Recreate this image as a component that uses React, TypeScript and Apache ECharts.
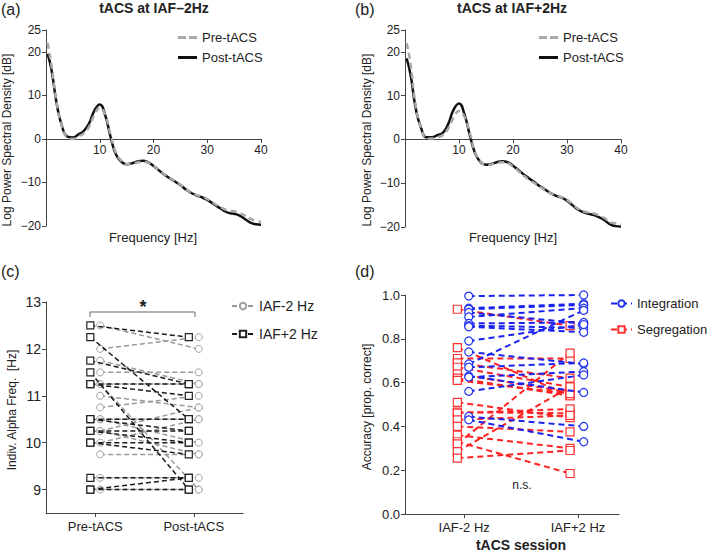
import React, { useEffect, useRef } from "react";
import * as echarts from "echarts";

const freqs = [0.3, 1, 2, 3, 4, 5, 6, 7, 8, 9, 10, 11, 12, 13, 14, 15, 16, 17, 18, 19, 20, 21, 22, 23, 24, 25, 26, 27, 28, 29, 30, 31, 32, 33, 34, 35, 36, 37, 38, 39, 40];
const aPost = [19.5, 16, 8, 2.8, 0.5, 0.3, 1.0, 1.8, 3.5, 6.5, 7.9, 5.5, 0.5, -3.5, -5.2, -5.8, -5.6, -5.2, -5.0, -5.4, -6.2, -7.2, -8.2, -9, -9.8, -10.6, -11.6, -12.4, -13.0, -13.4, -14.0, -14.8, -15.6, -16.4, -17.0, -17.2, -17.6, -18.4, -19.2, -19.6, -19.7];
const aPre = [22, 17, 8.2, 2.8, 0.3, 0, 0.6, 1.2, 2.8, 5.5, 7.2, 5.5, 1.0, -3.2, -5.0, -5.8, -5.7, -5.4, -5.2, -5.5, -6.2, -7.1, -8.1, -9, -9.7, -10.5, -11.5, -12.3, -12.9, -13.2, -13.8, -14.6, -15.4, -16.0, -16.5, -16.6, -17.0, -17.6, -18.3, -18.8, -19.0];
const bPost = [18.5, 15, 7, 2.5, 0.5, 0.5, 1.0, 1.5, 3.5, 6.8, 8.2, 5.8, 1.0, -3.2, -5.2, -5.8, -5.6, -5.2, -5.0, -5.2, -6.0, -7.0, -8.0, -8.9, -9.8, -10.7, -11.5, -12.3, -12.9, -13.3, -14.0, -15.0, -16.0, -16.6, -17.0, -17.3, -17.8, -18.5, -19.4, -19.8, -19.9];
const bPre = [22, 17.5, 7.5, 2.5, 0.3, 0.2, 0.5, 1.0, 2.5, 5.0, 6.5, 5.2, 1.5, -3.0, -5.0, -5.8, -5.7, -5.4, -5.2, -5.4, -6.2, -7.2, -8.3, -9.2, -10.0, -10.8, -11.6, -12.3, -12.8, -13.2, -13.8, -14.8, -15.8, -16.4, -16.7, -16.9, -17.4, -18.0, -18.9, -19.2, -19.5];

const cCategories = ["Pre-tACS", "Post-tACS"];
const iafMinusPre = [12.5, 12.0, 11.75, 11.5, 11.25, 11.25, 11.0, 10.75, 10.5, 10.5, 10.25, 10.25, 10.0, 9.75, 9.25, 9.0];
const iafMinusPost = [12.0, 12.25, 11.25, 11.5, 11.25, 9.0, 10.75, 11.0, 10.5, 10.0, 10.75, 9.75, 10.5, 9.75, 9.25, 9.0];
const iafPlusPre = [12.5, 12.25, 11.75, 11.5, 11.25, 11.25, 10.5, 10.5, 10.25, 10.25, 10.0, 10.0, 9.25, 9.0, 9.0];
const iafPlusPost = [12.25, 10.5, 11.25, 9.0, 11.25, 11.0, 10.5, 10.25, 10.25, 10.0, 10.0, 9.75, 9.25, 9.25, 9.0];
const cTicks = [9, 10, 11, 12, 13];

const dCategories = ["IAF-2 Hz", "IAF+2 Hz"];
const integPre = [0.995, 0.94, 0.935, 0.92, 0.9, 0.87, 0.86, 0.855, 0.79, 0.74, 0.685, 0.67, 0.63, 0.625, 0.56, 0.445, 0.43];
const integPost = [1.0, 0.96, 0.955, 0.87, 0.94, 0.875, 0.85, 0.83, 0.865, 0.685, 0.93, 0.69, 0.555, 0.65, 0.635, 0.4, 0.33];
const segPre = [0.935, 0.76, 0.71, 0.69, 0.67, 0.64, 0.62, 0.61, 0.51, 0.465, 0.46, 0.43, 0.4, 0.36, 0.33, 0.32, 0.285, 0.255];
const segPost = [0.86, 0.54, 0.71, 0.62, 0.58, 0.555, 0.54, 0.55, 0.44, 0.46, 0.48, 0.45, 0.375, 0.3, 0.185, 0.735, 0.58, 0.29];

const FONT = "Liberation Sans, Arial, Helvetica, sans-serif";
const AX = "#444";
const TXT = "#222";
const DASH_ICON = "path://M0,0h8v3h-8z M11,0h8v3h-8z";
const SOLID_ICON = "path://M0,0h19v3h-19z";

export default function App() {
  const ref = useRef<HTMLDivElement>(null);
  useEffect(() => {
    if (!ref.current) return;
    const chart = echarts.init(ref.current, null, { renderer: "svg" });

    const minus = (v: number) => (v < 0 ? "\u2212" + Math.abs(v) : String(v));
    const psdX = (i: number, off: number) => ({
      type: "value", gridIndex: i, min: 0, max: 40, interval: 10,
      position: "bottom", offset: off,
      axisLine: { onZero: false, lineStyle: { color: AX } },
      axisTick: { length: 4, lineStyle: { color: AX } },
      axisLabel: { color: TXT, fontSize: 12, fontFamily: FONT, margin: 5, formatter: (v: number) => (v === 0 ? "" : String(v)) },
      splitLine: { show: false },
    });
    const psdY = (i: number) => ({
      type: "value", gridIndex: i, min: -20, max: 25, interval: 10,
      axisLine: { show: true, lineStyle: { color: AX } },
      axisTick: { show: true, length: 4, lineStyle: { color: AX } },
      axisLabel: { color: TXT, fontSize: 12, fontFamily: FONT, margin: 5, formatter: minus },
      splitLine: { show: false },
    });

    const series: any[] = [];
    const psd = (name: string, xi: number, ys: number[], pre: boolean) => ({
      type: "line", name, xAxisIndex: xi, yAxisIndex: xi, smooth: true, symbol: "none",
      data: freqs.map((f, k) => [f, ys[k]]),
      lineStyle: pre ? { color: "#a8a8a8", width: 2.5, type: [6, 4] } : { color: "#111", width: 2.5 },
      itemStyle: { color: pre ? "#a8a8a8" : "#111" },
      z: pre ? 3 : 2,
    });
    series.push(psd("Post-tACS", 0, aPost, false), psd("Pre-tACS", 0, aPre, true));
    series.push(psd("Post-tACS", 1, bPost, false), psd("Pre-tACS", 1, bPre, true));

    iafMinusPre.forEach((v, k) => {
      series.push({
        type: "line", name: "IAF-2 Hz", xAxisIndex: 2, yAxisIndex: 2,
        data: [[1.05, v], [2.05, iafMinusPost[k]]],
        symbol: "circle", symbolSize: 7,
        lineStyle: { color: "#999", width: 1.5, type: [5, 3] },
        itemStyle: { color: "#fff", borderColor: "#a0a0a0", borderWidth: 1 },
        z: 2,
      });
    });
    iafPlusPre.forEach((v, k) => {
      series.push({
        type: "line", name: "IAF+2 Hz", xAxisIndex: 2, yAxisIndex: 2,
        data: [[0.95, v], [1.95, iafPlusPost[k]]],
        symbol: "rect", symbolSize: 7,
        lineStyle: { color: "#1a1a1a", width: 1.5, type: [5, 3] },
        itemStyle: { color: "#fff", borderColor: "#222", borderWidth: 1.2 },
        z: 3,
      });
    });
    segPre.forEach((v, k) => {
      series.push({
        type: "line", name: "Segregation", xAxisIndex: 3, yAxisIndex: 3,
        data: [[0.94, v], [1.93, segPost[k]]],
        symbol: "rect", symbolSize: 8,
        lineStyle: { color: "#ff2222", width: 2, type: [6, 4] },
        itemStyle: { color: "#fff", borderColor: "#ff3333", borderWidth: 1.2 },
        z: 2,
      });
    });
    integPre.forEach((v, k) => {
      series.push({
        type: "line", name: "Integration", xAxisIndex: 3, yAxisIndex: 3,
        data: [[1.04, v], [2.05, integPost[k]]],
        symbol: "circle", symbolSize: 8,
        lineStyle: { color: "#1a22ee", width: 2, type: [6, 4] },
        itemStyle: { color: "#fff", borderColor: "#2233ee", borderWidth: 1.2 },
        z: 3,
      });
    });

    const legendBase = {
      orient: "vertical", itemWidth: 22, itemHeight: 8, itemGap: 8,
      textStyle: { color: TXT, fontSize: 13, fontFamily: FONT },
      selectedMode: false, padding: 0,
    };
    const psdLegendData = [
      { name: "Pre-tACS", icon: DASH_ICON, itemStyle: { color: "#a8a8a8" } },
      { name: "Post-tACS", icon: SOLID_ICON, itemStyle: { color: "#111" } },
    ];

    const txt = (text: string, x: number, y: number, o: any = {}) => ({
      type: "text", x, y, rotation: o.rot || 0,
      style: { text, fill: TXT, font: `${o.bold ? "bold " : ""}${o.size || 13}px ${FONT}`, textAlign: o.align || "center", textVerticalAlign: "middle" },
    });

    chart.setOption({
      animation: false,
      backgroundColor: "#fff",
      grid: [
        { left: 46, top: 30, width: 215, height: 196 },
        { left: 405, top: 30, width: 216, height: 197 },
        { left: 46, top: 302, width: 197, height: 211 },
        { left: 405, top: 295, width: 214, height: 219 },
      ],
      xAxis: [
        psdX(0, -87.1),
        psdX(1, -87.6),
        {
          type: "value", gridIndex: 2, min: 0.5, max: 2.5,
          axisLine: { onZero: false, lineStyle: { color: AX } },
          axisTick: { customValues: [1, 2], length: 4, lineStyle: { color: AX } },
          axisLabel: { customValues: [1, 2], color: TXT, fontSize: 13, fontFamily: FONT, margin: 7, formatter: (v: number) => cCategories[Math.round(v) - 1] },
          splitLine: { show: false },
        },
        {
          type: "value", gridIndex: 3, min: 0.48, max: 2.36,
          axisLine: { onZero: false, lineStyle: { color: AX } },
          axisTick: { customValues: [1, 2], length: 4, lineStyle: { color: AX } },
          axisLabel: { customValues: [1, 2], color: TXT, fontSize: 13, fontFamily: FONT, margin: 7, formatter: (v: number) => dCategories[Math.round(v) - 1] },
          splitLine: { show: false },
        },
      ],
      yAxis: [
        psdY(0),
        psdY(1),
        {
          type: "value", gridIndex: 2, min: 8.5, max: 13,
          axisLine: { show: true, lineStyle: { color: AX } },
          axisTick: { show: true, customValues: cTicks, length: 4, lineStyle: { color: AX } },
          axisLabel: { customValues: cTicks, color: TXT, fontSize: 14, fontFamily: FONT, margin: 5 },
          splitLine: { show: false },
        },
        {
          type: "value", gridIndex: 3, min: 0, max: 1, interval: 0.2,
          axisLine: { show: true, lineStyle: { color: AX } },
          axisTick: { show: true, length: 4, lineStyle: { color: AX } },
          axisLabel: { color: TXT, fontSize: 13, fontFamily: FONT, margin: 5, formatter: (v: number) => v.toFixed(1) },
          splitLine: { show: false },
        },
      ],
      legend: [
        { ...legendBase, data: psdLegendData, left: 178, top: 31, itemWidth: 19, itemHeight: 3, itemGap: 7 },
        { ...legendBase, data: psdLegendData, left: 539, top: 31, itemWidth: 19, itemHeight: 3, itemGap: 7 },
        { ...legendBase, data: ["IAF-2 Hz", "IAF+2 Hz"], left: 231, top: 299, itemGap: 14, textStyle: { ...legendBase.textStyle, fontSize: 14 } },
        { ...legendBase, data: ["Integration", "Segregation"], left: 610, top: 297, itemWidth: 21, itemGap: 13, textStyle: { ...legendBase.textStyle, fontSize: 13 } },
      ],
      graphic: [
        txt("(a)", 1, 9, { size: 16, align: "left" }),
        txt("(b)", 355, 9, { size: 16, align: "left" }),
        txt("(c)", 1, 271, { size: 16, align: "left" }),
        txt("(d)", 355, 271, { size: 16, align: "left" }),
        txt("tACS at IAF\u20132Hz", 154, 8, { bold: true, size: 14 }),
        txt("tACS at IAF+2Hz", 512, 8, { bold: true, size: 14 }),
        txt("Log Power Spectral Density [dB]", 7, 140, { size: 12, rot: Math.PI / 2 }),
        txt("Log Power Spectral Density [dB]", 367, 140, { size: 12, rot: Math.PI / 2 }),
        txt("Frequency [Hz]", 153, 237, { size: 13 }),
        txt("Frequency [Hz]", 513, 237, { size: 13 }),
        txt("Indiv. Alpha Freq.  [Hz]", 12, 410, { size: 12, rot: Math.PI / 2 }),
        txt("Accuracy [prop. correct]", 367, 407, { size: 12, rot: Math.PI / 2 }),
        txt("*", 143, 307, { size: 18, bold: true }),
        txt("n.s.", 522, 485, { size: 12 }),
        txt("tACS session", 521, 545, { size: 14, bold: true }),
        {
          type: "polyline",
          shape: { points: [[90, 317], [90, 312], [195, 312], [195, 317]] },
          style: { stroke: "#666", lineWidth: 1, fill: null },
        },
      ],
      series,
    });
    return () => chart.dispose();
  }, []);
  return <div ref={ref} style={{ position: "absolute", left: 0, top: 0, width: 709, height: 554 }} />;
}
